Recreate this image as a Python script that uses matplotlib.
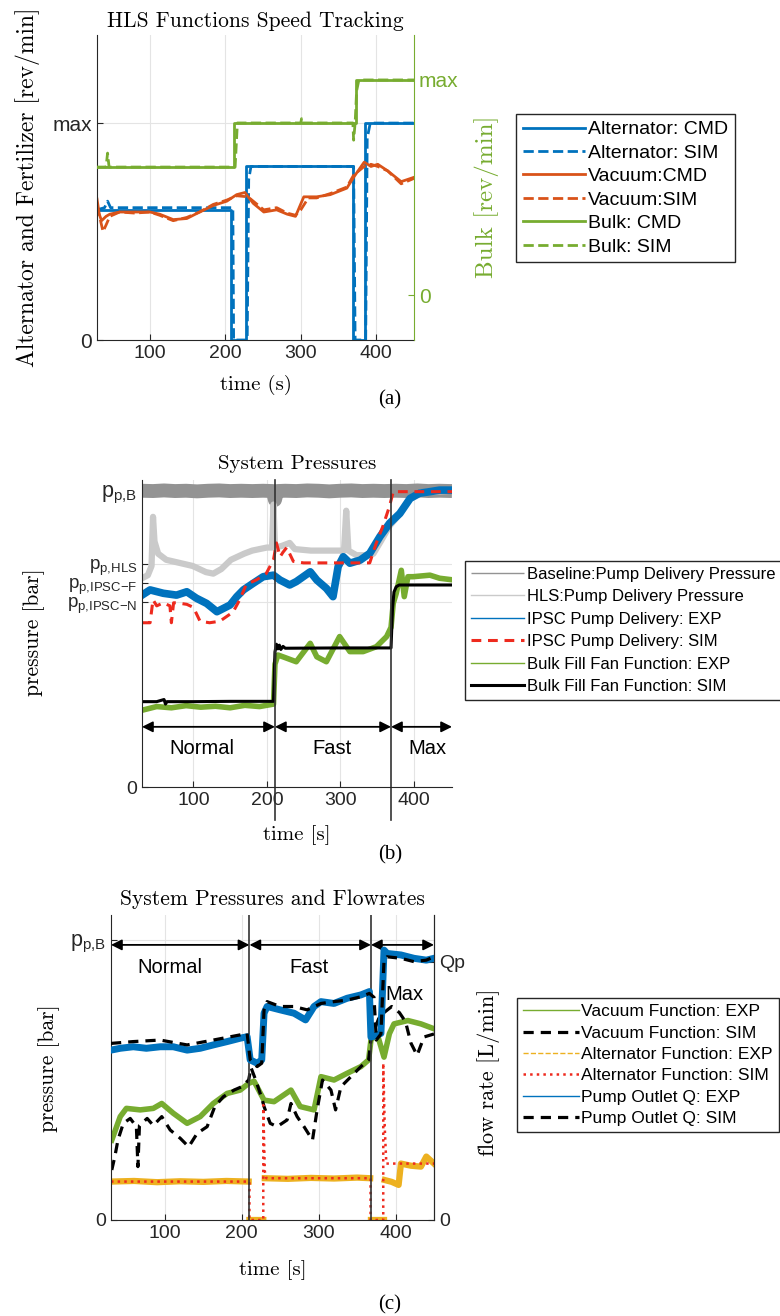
import numpy as np
import matplotlib
matplotlib.use("Agg")
import matplotlib.pyplot as plt

# ---------------- data (normalised to each axis) ----------------
# (a) HLS functions speed tracking
a_alt_cmd_t = [30, 208, 208, 228, 228, 369, 369, 385, 385, 450]
a_alt_cmd = [0.60, 0.60, 0.0, 0.0, 0.80, 0.80, 0.0, 0.0, 1.0, 1.0]
a_alt_sim_t = [30, 40, 44, 48, 210, 211, 229, 231, 234, 370, 372, 386, 388, 392, 450]
a_alt_sim = [0.60, 0.61, 0.64, 0.61, 0.61, 0.0, 0.0, 0.74, 0.80, 0.80, 0.0, 0.0, 0.93, 1.0, 1.0]
a_vac_cmd_t = [30, 33, 36, 42, 47, 60, 80, 100, 113, 131, 149, 166, 184, 202, 215, 226, 237,
               251, 268, 282, 293, 304, 321, 339, 361, 370, 384, 393, 402, 415, 433, 450]
a_vac_cmd = [0.65, 0.58, 0.55, 0.57, 0.58, 0.59, 0.59, 0.59, 0.58, 0.555, 0.56, 0.59, 0.62, 0.64,
             0.67, 0.68, 0.63, 0.59, 0.60, 0.58, 0.57, 0.66, 0.66, 0.67, 0.70, 0.75, 0.82, 0.80,
             0.81, 0.78, 0.73, 0.75]
a_vac_sim_t = [30, 34, 38, 42, 47, 60, 80, 100, 113, 131, 149, 166, 184, 202, 215, 230, 237, 251,
               268, 282, 293, 300, 310, 321, 339, 361, 370, 384, 393, 402, 415, 433, 450]
a_vac_sim = [0.62, 0.56, 0.50, 0.53, 0.57, 0.59, 0.585, 0.59, 0.575, 0.55, 0.565, 0.59, 0.625,
             0.645, 0.665, 0.66, 0.64, 0.60, 0.61, 0.585, 0.575, 0.60, 0.655, 0.655, 0.675, 0.705,
             0.76, 0.80, 0.81, 0.80, 0.78, 0.72, 0.745]
a_bulk_cmd_t = [30, 212, 212, 373, 373, 450]
a_bulk_cmd = [0.595, 0.595, 0.80, 0.80, 1.0, 1.0]
a_bulk_sim_t = [30, 42, 44, 46, 213, 216, 300, 301, 302, 369, 370, 372, 374, 377, 450]
a_bulk_sim = [0.595, 0.595, 0.66, 0.595, 0.595, 0.80, 0.80, 0.82, 0.80, 0.80, 0.72, 0.80, 0.95, 1.0, 1.0]

# (b) system pressures
b_base_t = [30, 45, 60, 75, 90, 105, 120, 135, 150, 165, 180, 195, 208, 211, 214, 225, 240, 255,
            270, 285, 300, 315, 330, 345, 360, 375, 390, 405, 420, 435, 452]
b_base = [0.965, 0.964, 0.966, 0.964, 0.965, 0.963, 0.965, 0.966, 0.964, 0.965, 0.964, 0.965,
          0.964, 0.935, 0.964, 0.965, 0.964, 0.966, 0.965, 0.963, 0.965, 0.966, 0.964, 0.965,
          0.964, 0.965, 0.964, 0.966, 0.964, 0.965, 0.964]
b_hls_t = [30, 38, 43, 45, 47, 52, 63, 81, 99, 117, 127, 138, 151, 169, 180, 200, 207, 209, 211,
           220, 231, 238, 260, 290, 305, 308, 311, 322, 335, 345, 355, 367, 381, 395, 410, 452]
b_hls = [0.68, 0.69, 0.72, 0.88, 0.80, 0.76, 0.74, 0.73, 0.72, 0.70, 0.695, 0.71, 0.74, 0.76,
         0.77, 0.78, 0.78, 0.92, 0.78, 0.785, 0.795, 0.775, 0.77, 0.77, 0.77, 0.90, 0.77, 0.755,
         0.755, 0.76, 0.80, 0.85, 0.89, 0.94, 0.96, 0.965]
b_ipsc_exp_t = [30, 41, 59, 77, 91, 104, 118, 132, 141, 150, 159, 168, 181, 195, 209, 218, 231,
                240, 259, 268, 281, 290, 297, 304, 313, 327, 340, 354, 367, 381, 395, 408, 422, 435, 452]
b_ipsc_exp = [0.625, 0.642, 0.631, 0.625, 0.636, 0.615, 0.598, 0.571, 0.582, 0.593, 0.620, 0.642,
              0.663, 0.685, 0.690, 0.674, 0.658, 0.669, 0.701, 0.674, 0.647, 0.620, 0.718, 0.750,
              0.729, 0.739, 0.761, 0.816, 0.859, 0.891, 0.940, 0.957, 0.962, 0.967, 0.967]
b_ipsc_sim_t = [30, 41, 45, 50, 59, 68, 70, 73, 77, 91, 100, 104, 109, 122, 136, 145, 154, 163,
                172, 186, 199, 209, 213, 218, 222, 227, 236, 250, 340, 349, 358, 367, 372, 452]
b_ipsc_sim = [0.535, 0.535, 0.61, 0.59, 0.60, 0.59, 0.535, 0.60, 0.60, 0.595, 0.585, 0.565, 0.54,
              0.535, 0.54, 0.555, 0.57, 0.61, 0.66, 0.675, 0.695, 0.74, 0.795, 0.75, 0.765, 0.78,
              0.735, 0.73, 0.73, 0.795, 0.85, 0.915, 0.962, 0.962]
b_bulk_exp_t = [30, 50, 70, 90, 110, 130, 150, 170, 190, 209, 211, 215, 222, 240, 259, 268, 281,
                299, 313, 331, 349, 363, 369, 372, 376, 383, 387, 392, 399, 422, 435, 452]
b_bulk_exp = [0.25, 0.262, 0.258, 0.265, 0.26, 0.263, 0.258, 0.266, 0.262, 0.27, 0.40, 0.43,
              0.424, 0.408, 0.468, 0.424, 0.408, 0.49, 0.441, 0.441, 0.457, 0.49, 0.52, 0.598,
              0.63, 0.706, 0.62, 0.685, 0.685, 0.69, 0.68, 0.675]
b_bulk_sim_t = [30, 50, 60, 62, 64, 100, 150, 209, 211, 213, 215, 217, 219, 222, 225, 300, 369,
                371, 373, 376, 380, 452]
b_bulk_sim = [0.278, 0.278, 0.285, 0.27, 0.278, 0.278, 0.279, 0.279, 0.44, 0.465, 0.45, 0.462,
              0.448, 0.458, 0.452, 0.453, 0.453, 0.58, 0.635, 0.652, 0.658, 0.658]
b_ticks = [0, 0.603, 0.665, 0.728, 0.965]
b_ticklabels = ['0', r'$\mathrm{p_{p{,}IPSC{-}N}}$', r'$\mathrm{p_{p{,}IPSC{-}F}}$',
                r'$\mathrm{p_{p{,}HLS}}$', r'$\mathrm{p_{p{,}B}}$']
b_phase_edges = [30, 211, 369, 452]
b_phase_label_t = [112, 288, 418]

# (c) system pressures and flowrates
c_q_exp_t = [30, 42, 59, 76, 94, 111, 129, 146, 163, 181, 198, 207, 211, 220, 226, 229, 233, 250,
             268, 283, 294, 303, 320, 337, 355, 366, 368, 375, 381, 385, 389, 407, 424, 440, 450]
c_q_exp = [0.557, 0.563, 0.568, 0.563, 0.568, 0.568, 0.557, 0.563, 0.574, 0.585, 0.596, 0.601,
           0.525, 0.514, 0.525, 0.678, 0.70, 0.689, 0.678, 0.656, 0.70, 0.716, 0.71, 0.727, 0.738,
           0.749, 0.60, 0.605, 0.612, 0.885, 0.874, 0.869, 0.858, 0.852, 0.858]
c_q_sim_t = [30, 59, 94, 129, 163, 198, 207, 211, 220, 226, 229, 233, 250, 268, 285, 303, 320,
             337, 355, 366, 372, 375, 381, 385, 389, 407, 424, 440, 450]
c_q_sim = [0.579, 0.585, 0.59, 0.574, 0.59, 0.607, 0.612, 0.525, 0.503, 0.514, 0.689, 0.716, 0.70,
           0.70, 0.689, 0.71, 0.716, 0.721, 0.732, 0.743, 0.73, 0.59, 0.61, 0.852, 0.863, 0.858,
           0.847, 0.852, 0.863]
c_vac_exp_t = [31, 42, 50, 68, 85, 96, 111, 129, 146, 163, 181, 198, 209, 216, 229, 242, 264, 276,
               294, 303, 320, 337, 355, 365, 368, 376, 385, 392, 398, 416, 433, 450]
c_vac_exp = [0.262, 0.339, 0.366, 0.361, 0.366, 0.382, 0.350, 0.317, 0.339, 0.382, 0.415, 0.426,
             0.448, 0.455, 0.393, 0.388, 0.426, 0.372, 0.361, 0.470, 0.459, 0.481, 0.503, 0.525,
             0.59, 0.611, 0.534, 0.611, 0.643, 0.654, 0.643, 0.627]
c_vac_sim_t = [31, 35, 39, 46, 55, 63, 65, 67, 77, 85, 96, 107, 120, 131, 142, 155, 165, 176, 190,
               200, 209, 212, 218, 226, 229, 237, 246, 259, 264, 272, 281, 292, 298, 305, 316, 322,
               329, 342, 355, 365, 368, 372, 378, 385, 395, 405, 413, 420, 428, 437, 450]
c_vac_sim = [0.164, 0.208, 0.262, 0.317, 0.333, 0.306, 0.175, 0.31, 0.333, 0.31, 0.339, 0.295,
             0.268, 0.24, 0.284, 0.306, 0.372, 0.404, 0.426, 0.437, 0.459, 0.50, 0.46, 0.40, 0.372,
             0.317, 0.306, 0.328, 0.382, 0.339, 0.306, 0.262, 0.361, 0.459, 0.426, 0.361, 0.437,
             0.470, 0.503, 0.525, 0.59, 0.62, 0.66, 0.68, 0.70, 0.68, 0.65, 0.58, 0.54, 0.60, 0.61]
c_alt_exp_t = [30, 60, 90, 120, 150, 180, 209, 209.5, 210, 228, 228.5, 230, 260, 290, 320, 350,
               367, 367.5, 368, 385, 385.5, 386, 395, 404, 407, 420, 433, 440, 450]
c_alt_exp = [0.126, 0.128, 0.124, 0.127, 0.125, 0.128, 0.126, np.nan, 0.0, 0.0, np.nan, 0.137,
             0.135, 0.138, 0.136, 0.139, 0.137, np.nan, 0.0, 0.0, np.nan, 0.131, 0.125, 0.115,
             0.185, 0.178, 0.175, 0.208, 0.185]
c_alt_sim_t = [30, 210, 210, 228, 228, 230, 232, 367.5, 367.5, 384, 384, 386, 388, 450]
c_alt_sim = [0.126, 0.126, 0.0, 0.0, 0.377, 0.16, 0.137, 0.137, 0.0, 0.0, 0.514, 0.30, 0.185, 0.185]
c_phase_edges = [30, 210, 368, 450]
c_phase_label_t = [106, 287, 411]
phase_names = ['Normal', 'Fast', 'Max']

# ---------------- style ----------------
plt.rcParams['font.family'] = ['Liberation Sans', 'DejaVu Sans']
plt.rcParams['mathtext.fontset'] = 'custom'
plt.rcParams['mathtext.rm'] = 'Liberation Sans'
plt.rcParams['mathtext.it'] = 'Liberation Sans:italic'

SERIF = 'cmr10'
INK = '#262626'
BLUE = '#0072BD'
ORANGE = '#D95319'
GREEN = '#77AC30'
YELLOW = '#EDB120'
RED = '#ee2a1e'

fig = plt.figure(figsize=(7.8, 13.16), dpi=100)
W, H = 780.0, 1316.0


def box(l, t, r, b):
    return [l / W, 1 - b / H, (r - l) / W, (b - t) / H]


def style(ax, spines):
    for s in ['top', 'right', 'left', 'bottom']:
        ax.spines[s].set_visible(s in spines)
        ax.spines[s].set_color(INK)
        ax.spines[s].set_linewidth(0.8)
    ax.tick_params(direction='in', length=4, width=0.8, colors=INK, labelsize=14)
    ax.grid(True, color='#e4e4e4', lw=0.8)
    ax.set_axisbelow(True)


def make_legend(handles, labels, x, y, size, spacing):
    leg = fig.legend(handles, labels, loc='upper left', bbox_to_anchor=(x / W, 1 - y / H),
                     bbox_transform=fig.transFigure, fontsize=size, frameon=True,
                     fancybox=False, edgecolor=INK, framealpha=1, handlelength=3.2,
                     handletextpad=0.15, labelspacing=spacing, borderpad=0.35, borderaxespad=0)
    leg.get_frame().set_linewidth(1.0)
    return leg


# ---------------- (a) ----------------
axa = fig.add_axes(box(97, 35, 414, 340))
style(axa, ['left', 'bottom'])
axa.set_xlim(30, 450)
axa.set_ylim(0, 1.406)
axa.set_xticks([100, 200, 300, 400])
axa.set_yticks([0, 1])
axa.set_yticklabels(['0', 'max'])
axa.tick_params(axis='y', labelsize=15)

axa2 = axa.twinx()
axa2.set_ylim(-0.209, 1.209)
for s in ['top', 'left', 'bottom']:
    axa2.spines[s].set_visible(False)
axa2.spines['right'].set_color(GREEN)
axa2.spines['right'].set_linewidth(0.8)
axa2.set_yticks([0, 1])
axa2.set_yticklabels(['0', 'max'])
axa2.tick_params(direction='in', length=4, width=0.8, colors=GREEN, labelsize=15)

la1, = axa.plot(a_alt_cmd_t, a_alt_cmd, color=BLUE, lw=2, label='Alternator: CMD')
la2, = axa.plot(a_alt_sim_t, a_alt_sim, color=BLUE, lw=2, ls='--', label='Alternator: SIM')
la3, = axa.plot(a_vac_cmd_t, a_vac_cmd, color=ORANGE, lw=2, label='Vacuum:CMD')
la4, = axa.plot(a_vac_sim_t, a_vac_sim, color=ORANGE, lw=2, ls='--', label='Vacuum:SIM')
la5, = axa2.plot(a_bulk_cmd_t, a_bulk_cmd, color=GREEN, lw=2, label='Bulk: CMD')
la6, = axa2.plot(a_bulk_sim_t, a_bulk_sim, color=GREEN, lw=2, ls='--', label='Bulk: SIM')

axa.set_title('HLS Functions Speed Tracking', fontfamily=SERIF, fontsize=15.5, pad=6)
axa.set_xlabel('time (s)', fontfamily=SERIF, fontsize=15)
axa.xaxis.set_label_coords(0.5, -0.115)
axa.set_ylabel('Alternator and Fertilizer [rev/min]', fontfamily=SERIF, fontsize=17)
axa.yaxis.set_label_coords(-0.18, 0.5)
axa2.set_ylabel('Bulk [rev/min]', fontfamily=SERIF, fontsize=18, color=GREEN)
axa2.yaxis.set_label_coords(1.19, 0.47)

ha = [la1, la2, la3, la4, la5, la6]
make_legend(ha, [h.get_label() for h in ha], 516, 114, 14, 0.3)
fig.text(390 / W, 1 - 400 / H, '(a)', fontfamily='Liberation Serif', fontsize=15,
         ha='center', va='center')

# ---------------- (b) ----------------
axb = fig.add_axes(box(142, 480, 452, 787))
style(axb, ['left', 'bottom'])
axb.set_xlim(30, 452)
axb.set_ylim(0, 1)
axb.set_xticks([100, 200, 300, 400])
axb.set_yticks(b_ticks)
axb.set_yticklabels(b_ticklabels)
for lab in axb.get_yticklabels()[1:]:
    lab.set_fontsize(13.5)
axb.get_yticklabels()[4].set_fontsize(15.5)

lb1, = axb.plot(b_base_t, b_base, color='#939393', lw=10, solid_capstyle='butt',
                label='Baseline:Pump Delivery Pressure')
lb2, = axb.plot(b_hls_t, b_hls, color='#cacaca', lw=4.5, label='HLS:Pump Delivery Pressure')
lb3, = axb.plot(b_ipsc_exp_t, b_ipsc_exp, color=BLUE, lw=5.5, label='IPSC Pump Delivery: EXP')
lb4, = axb.plot(b_ipsc_sim_t, b_ipsc_sim, color=RED, lw=2.2, ls='--', dashes=(3.2, 2.2),
                label='IPSC Pump Delivery: SIM')
lb5, = axb.plot(b_bulk_exp_t, b_bulk_exp, color=GREEN, lw=4, label='Bulk Fill Fan Function: EXP')
lb6, = axb.plot(b_bulk_sim_t, b_bulk_sim, color='black', lw=2.2, label='Bulk Fill Fan Function: SIM')

for e in b_phase_edges[1:3]:
    axb.axvline(e, ymin=-0.107, ymax=1.0, color='#333333', lw=1.2, clip_on=False)
for i in range(3):
    axb.annotate('', xy=(b_phase_edges[i + 1], 0.196), xytext=(b_phase_edges[i], 0.196),
                 arrowprops=dict(arrowstyle='<|-|>', color='black', lw=1.3,
                                 mutation_scale=16, shrinkA=0, shrinkB=0))
    axb.text(b_phase_label_t[i], 0.126, phase_names[i], fontsize=14.5, ha='center',
             va='center', color='black')

axb.set_title('System Pressures', fontfamily=SERIF, fontsize=15, pad=8)
axb.set_xlabel('time [s]', fontfamily=SERIF, fontsize=15)
axb.xaxis.set_label_coords(0.5, -0.124)
axb.set_ylabel('pressure [bar]', fontfamily=SERIF, fontsize=15.5)
axb.yaxis.set_label_coords(-0.313, 0.505)

hb = [lb1, lb2, lb3, lb4, lb5, lb6]
legb = make_legend(hb, [h.get_label() for h in hb], 465, 561, 12, 0.45)
for i, line in enumerate(legb.get_lines()):
    line.set_linewidth([1.0, 1.0, 1.0, 2.2, 1.0, 2.2][i])
fig.text(390 / W, 1 - 855 / H, '(b)', fontfamily='Liberation Serif', fontsize=15,
         ha='center', va='center')

# ---------------- (c) ----------------
axc = fig.add_axes(box(111, 915, 434, 1220))
style(axc, ['left', 'bottom', 'right'])
axc.set_xlim(30, 450)
axc.set_ylim(0, 1)
axc.set_xticks([100, 200, 300, 400])
axc.set_yticks([0, 0.918])
axc.set_yticklabels(['0', r'$\mathrm{p_{p{,}B}}$'])
axc.get_yticklabels()[1].set_fontsize(15.5)

axc2 = axc.twinx()
axc2.set_ylim(0, 1)
for s in ['top', 'left', 'bottom']:
    axc2.spines[s].set_visible(False)
axc2.spines['right'].set_color(INK)
axc2.spines['right'].set_linewidth(0.8)
axc2.set_yticks([0, 0.847])
axc2.set_yticklabels(['0', 'Qp'])
axc2.tick_params(direction='in', length=4, width=0.8, colors=INK, labelsize=14)

lc1, = axc.plot(c_vac_exp_t, c_vac_exp, color=GREEN, lw=4, label='Vacuum Function: EXP')
lc2, = axc.plot(c_vac_sim_t, c_vac_sim, color='black', lw=2.3, ls='--', dashes=(3.2, 2.2),
                label='Vacuum Function: SIM')
lc3, = axc.plot(c_alt_exp_t, c_alt_exp, color=YELLOW, lw=4.5, label='Alternator Function: EXP')
lc4, = axc.plot(c_alt_sim_t, c_alt_sim, color=RED, lw=1.8, ls=':', label='Alternator Function: SIM')
lc5, = axc2.plot(c_q_exp_t, c_q_exp, color=BLUE, lw=5, label='Pump Outlet Q: EXP')
lc6, = axc2.plot(c_q_sim_t, c_q_sim, color='black', lw=2.3, ls='--', dashes=(3.2, 2.2),
                 label='Pump Outlet Q: SIM')

for e in c_phase_edges[1:3]:
    axc.axvline(e, ymin=0, ymax=1.0, color='#333333', lw=1.2)
for i in range(3):
    axc.annotate('', xy=(c_phase_edges[i + 1], 0.902), xytext=(c_phase_edges[i], 0.902),
                 arrowprops=dict(arrowstyle='<|-|>', color='black', lw=1.3,
                                 mutation_scale=16, shrinkA=0, shrinkB=0))
for i in range(3):
    yl = 0.829 if i < 2 else 0.738
    axc2.text(c_phase_label_t[i], yl, phase_names[i], fontsize=14.5, ha='center',
              va='center', color='black')

axc.set_title('System Pressures and Flowrates', fontfamily=SERIF, fontsize=15.5, pad=7)
axc.set_xlabel('time [s]', fontfamily=SERIF, fontsize=15)
axc.xaxis.set_label_coords(0.5, -0.131)
axc.set_ylabel('pressure [bar]', fontfamily=SERIF, fontsize=15.5)
axc.yaxis.set_label_coords(-0.158, 0.498)
axc2.set_ylabel('flow rate [L/min]', fontfamily=SERIF, fontsize=16)
axc2.yaxis.set_label_coords(1.133, 0.485)

hc = [lc1, lc2, lc3, lc4, lc5, lc6]
legc = make_legend(hc, [h.get_label() for h in hc], 517, 998, 12.5, 0.36)
for i, line in enumerate(legc.get_lines()):
    line.set_linewidth([1.0, 2.3, 1.0, 1.8, 1.0, 2.3][i])
legc.get_lines()[2].set_linestyle('--')
fig.text(390 / W, 1 - 1305 / H, '(c)', fontfamily='Liberation Serif', fontsize=15,
         ha='center', va='center')

fig.savefig('out.png', dpi=100)
